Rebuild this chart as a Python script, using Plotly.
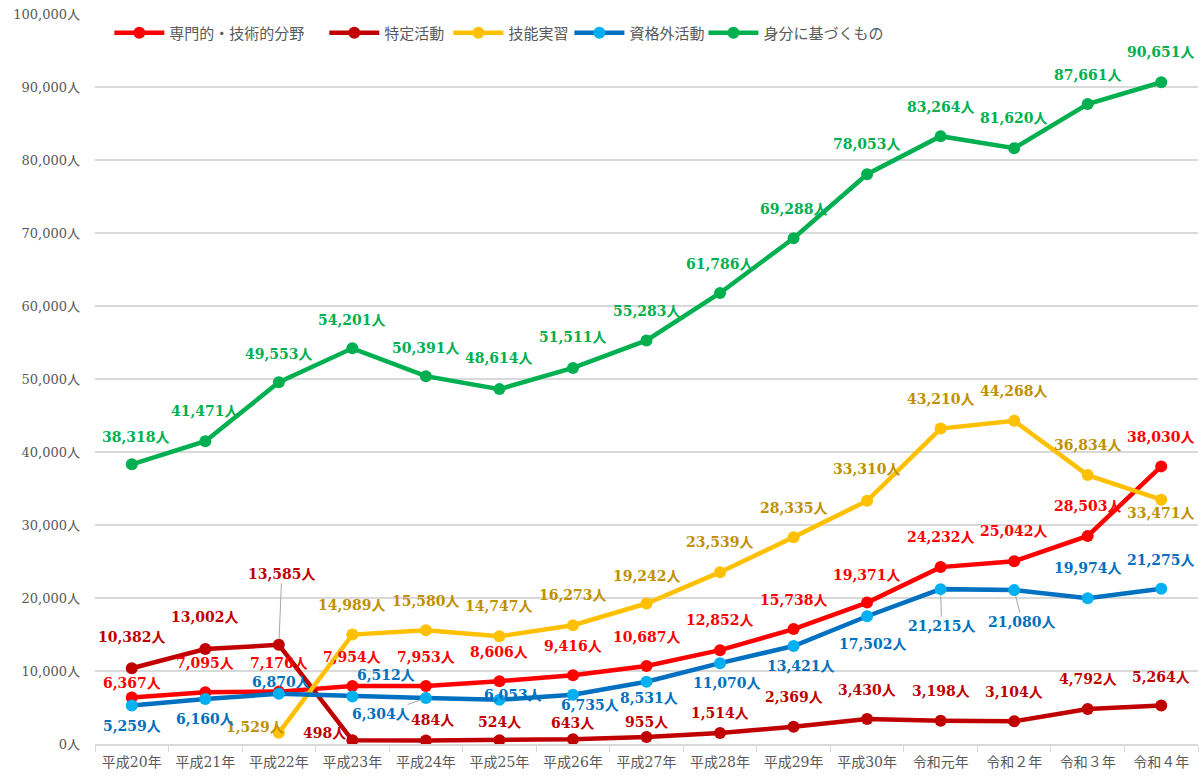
import plotly.graph_objects as go

categories = ["平成20年", "平成21年", "平成22年", "平成23年", "平成24年", "平成25年",
              "平成26年", "平成27年", "平成28年", "平成29年", "平成30年", "令和元年",
              "令和２年", "令和３年", "令和４年"]

senmon = [6367, 7095, 7176, 7954, 7953, 8606, 9416, 10687, 12852, 15738, 19371,
          24232, 25042, 28503, 38030]
tokutei = [10382, 13002, 13585, 498, 484, 524, 643, 955, 1514, 2369, 3430,
           3198, 3104, 4792, 5264]
ginou = [None, None, 1529, 14989, 15580, 14747, 16273, 19242, 23539, 28335, 33310,
         43210, 44268, 36834, 33471]
shikakugai = [5259, 6160, 6870, 6512, 6304, 6053, 6735, 8531, 11070, 13421, 17502,
              21215, 21080, 19974, 21275]
mibun = [38318, 41471, 49553, 54201, 50391, 48614, 51511, 55283, 61786, 69288, 78053,
         83264, 81620, 87661, 90651]

series_names = ["専門的・技術的分野", "特定活動", "技能実習", "資格外活動", "身分に基づくもの"]

# styles: (line color, marker color, label color)
styles = [
    ("#FF0000", "#FF0000", "#FF0000"),
    ("#C00000", "#C00000", "#C00000"),
    ("#FFC000", "#FFC000", "#BF9000"),
    ("#0070C0", "#00B0F0", "#0070C0"),
    ("#00B050", "#00B050", "#00B050"),
]
# legend entry positions (paper x)
legend_x = [0.0130, 0.2079, 0.3204, 0.4301, 0.5516]

# label offsets in pixels (dx, dy up), "L" = with leader line
label_pos = [
    [(0, 15), (0, 29), (0, 29), (0, 29), (0, 29), (0, 29), (0, 29), (0, 29), (0, 30),
     (0, 29), (0, 28), (0, 30), (0, 30), (0, 30), (0, 29)],
    [(0, 31), (0, 32), (3, 71, "L"), (-28, 7), (7, 20), (0, 18), (0, 16), (0, 15), (0, 20),
     (0, 30), (0, 29), (0, 30), (0, 29), (0, 30), (0, 29)],
    [None, None, (-24, 6), (0, 30), (0, 29), (0, 30), (0, 30), (0, 28), (0, 30), (0, 29),
     (0, 32), (0, 30), (0, 30), (0, 30), (0, -13)],
    [(0, -20), (0, -20), (2, 12), (34, 21), (-45, -16, "L"), (14, 5), (17, -10), (2, -16),
     (7, -20), (7, -20), (6, -28), (1, -37, "L"), (8, -32, "L"), (0, 30), (0, 29)],
    [(4, 27), (0, 30), (0, 28), (0, 28), (0, 28), (0, 31), (0, 31), (0, 29), (0, 29),
     (0, 29), (0, 30), (0, 29), (0, 30), (0, 29), (0, 30)],
]

all_values = [senmon, tokutei, ginou, shikakugai, mibun]

LABEL_FONT = "DejaVu Serif, Noto Sans CJK JP, serif"
TICK_FONT = "DejaVu Serif, Noto Sans CJK JP, serif"

fig = go.Figure()
annotations = []
legends = {}
for i, (name, vals, (lc, mc, tc), pos, lx) in enumerate(
        zip(series_names, all_values, styles, label_pos, legend_x)):
    lname = "legend" if i == 0 else f"legend{i + 1}"
    legends[lname] = dict(
        orientation="h", x=lx, xanchor="left", y=0.974, yanchor="middle",
        font=dict(family="Noto Sans CJK JP, sans-serif", size=15, color="#595959"),
        bgcolor="rgba(0,0,0,0)", itemwidth=50,
    )
    fig.add_trace(go.Scatter(
        x=categories, y=vals, name=name, mode="lines+markers",
        line=dict(color=lc, width=4.5),
        marker=dict(color=mc, size=12),
        connectgaps=False, legend=lname,
    ))
    for c, v, p in zip(categories, vals, pos):
        if v is None or p is None:
            continue
        txt = f"{v:,}人"
        font = dict(family=LABEL_FONT, size=14, color=tc, weight="bold")
        if len(p) == 3:
            annotations.append(dict(
                x=c, y=v, xref="x", yref="y", text=txt, font=font,
                showarrow=True, ax=p[0], ay=-p[1], arrowhead=0, arrowwidth=1,
                arrowcolor="#A6A6A6", standoff=6, startstandoff=0,
            ))
        else:
            annotations.append(dict(
                x=c, y=v, xref="x", yref="y", text=txt, font=font,
                showarrow=False, xshift=p[0], yshift=p[1],
            ))

fig.update_layout(
    width=1203, height=781,
    margin=dict(l=95, r=5, t=14, b=37),
    plot_bgcolor="white", paper_bgcolor="white",
    annotations=annotations,
    showlegend=True,
    **legends,
)
fig.update_xaxes(
    type="category", range=[-0.5, 14.5],
    showgrid=False, showline=True, linecolor="#D9D9D9", linewidth=1.5,
    ticks="outside", tickson="boundaries", ticklen=6, tickcolor="#D9D9D9",
    tickfont=dict(family=TICK_FONT, size=14, color="#595959"),
    ticklabelstandoff=4,
)
fig.update_yaxes(
    range=[0, 100000], dtick=10000, tickformat=",", ticksuffix="人",
    showgrid=True, gridcolor="#D9D9D9", gridwidth=1.5, zeroline=False, showline=False,
    tickfont=dict(family=TICK_FONT, size=13, color="#595959"),
    ticklabelstandoff=14,
)

fig.write_html("out.html", config={"displayModeBar": False},
               post_script="document.body.style.margin='0';")
